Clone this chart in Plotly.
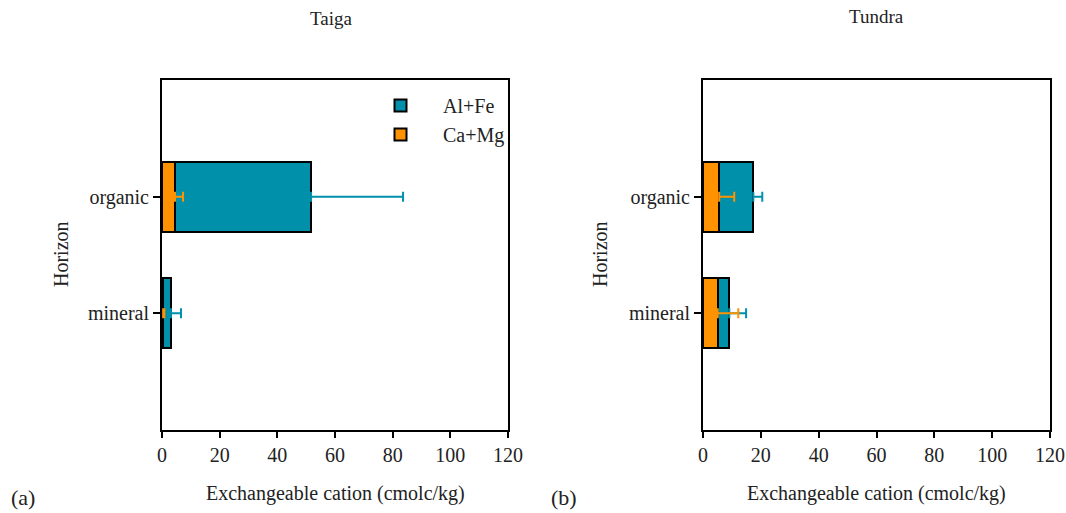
import plotly.graph_objects as go

horizons = ["mineral", "organic"]

# Exchangeable cations (cmolc/kg)
taiga_camg = [0.4, 4.5]
taiga_alfe = [2.7, 47.2]
taiga_camg_err = [0.4, 2.8]
taiga_alfe_err = [3.5, 31.9]

tundra_camg = [5.1, 5.6]
tundra_alfe = [4.0, 11.8]
tundra_camg_err = [7.1, 5.2]
tundra_alfe_err = [5.8, 3.1]

x_ticks = [0, 20, 40, 60, 80, 100, 120]

TEAL = "#0090aa"
ORANGE = "#ff9200"
FONT = "Liberation Serif, DejaVu Serif, serif"
TXT = "#222222"
W, H = 1066, 513

fig = go.Figure()


def add_panel(camg, alfe, camg_err, alfe_err, xa, ya, legend):
    fig.add_trace(go.Bar(
        y=horizons, x=camg, orientation="h", name="Ca+Mg",
        marker=dict(color=ORANGE, line=dict(color="black", width=2)),
        xaxis=xa, yaxis=ya, showlegend=legend, legendrank=2,
    ))
    fig.add_trace(go.Bar(
        y=horizons, x=alfe, orientation="h", name="Al+Fe",
        marker=dict(color=TEAL, line=dict(color="black", width=2)),
        xaxis=xa, yaxis=ya, showlegend=legend, legendrank=1,
    ))
    totals = [c + a for c, a in zip(camg, alfe)]
    # one-sided error bars at the end of each stacked segment
    fig.add_trace(go.Scatter(
        y=horizons, x=totals, mode="markers", marker=dict(opacity=0),
        error_x=dict(type="data", array=alfe_err, arrayminus=[0, 0],
                     color=TEAL, thickness=2, width=5),
        xaxis=xa, yaxis=ya, showlegend=False, hoverinfo="skip",
    ))
    fig.add_trace(go.Scatter(
        y=horizons, x=camg, mode="markers", marker=dict(opacity=0),
        error_x=dict(type="data", array=camg_err, arrayminus=[0, 0],
                     color=ORANGE, thickness=2, width=5),
        xaxis=xa, yaxis=ya, showlegend=False, hoverinfo="skip",
    ))


add_panel(taiga_camg, taiga_alfe, taiga_camg_err, taiga_alfe_err, "x", "y", True)
add_panel(tundra_camg, tundra_alfe, tundra_camg_err, tundra_alfe_err, "x2", "y2", False)

y_dom = [1 - 430 / H, 1 - 80 / H]
xaxis_common = dict(
    range=[0, 120], tickvals=x_ticks, ticks="outside", ticklen=6, tickwidth=2,
    tickcolor="black", showline=True, linecolor="black", linewidth=2,
    mirror=True, showgrid=False, zeroline=False, automargin=False,
    tickfont=dict(family=FONT, size=20, color=TXT),
)
yaxis_common = dict(
    type="category", categoryorder="array", categoryarray=horizons,
    range=[-1, 2], ticks="outside", ticklen=7, tickwidth=2, tickcolor="black",
    showline=True, linecolor="black", linewidth=2, mirror=True,
    showgrid=False, zeroline=False, domain=y_dom, automargin=False,
    tickfont=dict(family=FONT, size=20, color=TXT),
)


def label(text, x, y, size=20, angle=0):
    return dict(text=text, x=x / W, y=1 - y / H, xref="paper", yref="paper",
                xanchor="center", yanchor="middle", showarrow=False,
                textangle=angle, font=dict(family=FONT, size=size, color=TXT))


fig.update_layout(
    template="none",
    width=W, height=H,
    margin=dict(l=0, r=0, t=0, b=0, autoexpand=False),
    paper_bgcolor="white", plot_bgcolor="white",
    barmode="stack", bargap=0.4,
    font=dict(family=FONT, size=20, color=TXT),
    xaxis=dict(domain=[162 / W, 508 / W], anchor="y", **xaxis_common),
    yaxis=dict(anchor="x", **yaxis_common),
    xaxis2=dict(domain=[703 / W, 1050 / W], anchor="y2", **xaxis_common),
    yaxis2=dict(anchor="x2", **yaxis_common),
    legend=dict(
        x=358 / W, y=1 - 86 / H, xanchor="left", yanchor="top",
        bgcolor="rgba(0,0,0,0)", itemwidth=75, traceorder="normal",
        font=dict(family=FONT, size=20, color=TXT),
    ),
    showlegend=True,
    annotations=[
        label("Taiga", 331, 18, 19),
        label("Tundra", 876, 16, 19),
        label("Exchangeable cation (cmolc/kg)", 335, 493),
        label("Exchangeable cation (cmolc/kg)", 876, 493),
        label("Horizon", 61, 254, angle=-90),
        label("Horizon", 600, 254, angle=-90),
        label("(a)", 23, 497, 22),
        label("(b)", 564, 497, 22),
    ],
)

fig.write_html("out.html")
